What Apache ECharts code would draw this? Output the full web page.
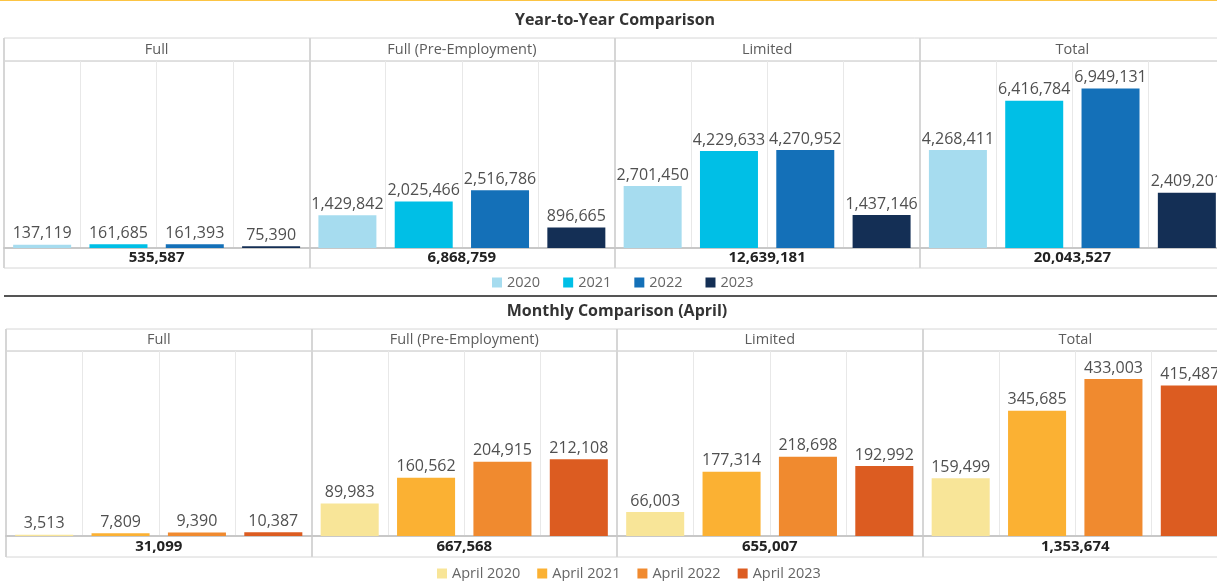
<!DOCTYPE html>
<html>
<head>
<meta charset="utf-8">
<title>Year-to-Year and Monthly Comparison</title>
<script src="https://cdn.jsdelivr.net/npm/echarts@6/dist/echarts.min.js"></script>
<style>
  html, body { margin: 0; padding: 0; background: #fff; }
  #chart { width: 1217px; height: 581px; }
</style>
</head>
<body>
<div id="chart"></div>
<script>
// panels shared by both charts
const panels = ['Full', 'Full (Pre-Employment)', 'Limited', 'Total']

// year-to-year, one array per year, ordered like panels
const years = ['2020', '2021', '2022', '2023']
const ytd2020 = [137119, 1429842, 2701450, 4268411]
const ytd2021 = [161685, 2025466, 4229633, 6416784]
const ytd2022 = [161393, 2516786, 4270952, 6949131]
const ytd2023 = [75390, 896665, 1437146, 2409201]
const ytdTotals = [535587, 6868759, 12639181, 20043527]

// monthly (april), same layout
const months = ['April 2020', 'April 2021', 'April 2022', 'April 2023']
const apr2020 = [3513, 89983, 66003, 159499]
const apr2021 = [7809, 160562, 177314, 345685]
const apr2022 = [9390, 204915, 218698, 433003]
const apr2023 = [10387, 212108, 192992, 415487]
const aprTotals = [31099, 667568, 655007, 1353674]

const blues = ['#a6dcef', '#00bfe6', '#1470b8', '#142f55']
const oranges = ['#f8e598', '#fbb133', '#f08a2f', '#dc5c21']

const FONT = "'Open Sans', sans-serif"
const fmt = v => String(v).replace(/\B(?=(\d{3})+(?!\d))/g, ',')

const charts = [
  {
    names: years, values: [ytd2020, ytd2021, ytd2022, ytd2023], totals: ytdTotals, colors: blues,
    left: 4, width: 1221, headTop: 38, headH: 23, plotTop: 61, plotH: 187, totTop: 248, totH: 20,
    yMax: 8150000, legendLeft: 492, legendTop: 275, legendGap: 23
  },
  {
    names: months, values: [apr2020, apr2021, apr2022, apr2023], totals: aprTotals, colors: oranges,
    left: 6, width: 1222, headTop: 329, headH: 22, plotTop: 351, plotH: 185, totTop: 536, totH: 21,
    yMax: 510500, legendLeft: 437, legendTop: 566, legendGap: 17
  }
]

const grid = []
const xAxis = []
const yAxis = []
const series = []
const legend = []

charts.forEach((c, ci) => {
  const g0 = ci * 3
  const x0 = ci * 4
  const box = { left: c.left, width: c.width, show: true, borderColor: '#d6d6d6', borderWidth: 1, outerBoundsMode: 'none', containLabel: false }
  // header row, plot area, totals row
  grid.push(Object.assign({}, box, { top: c.headTop, height: c.headH }))
  grid.push(Object.assign({}, box, { top: c.plotTop, height: c.plotH }))
  grid.push(Object.assign({}, box, { top: c.totTop, height: c.totH }))

  // 16 sub-columns: panel x year
  const cats = []
  panels.forEach(p => c.names.forEach(n => cats.push(p + ' ' + n)))

  xAxis.push({
    type: 'category', gridIndex: g0, data: panels, position: 'bottom',
    axisLine: { show: false }, axisTick: { show: false },
    axisLabel: { interval: 0, inside: true, margin: 11, verticalAlign: 'middle', color: '#5c5c5c', fontSize: 14.5, fontFamily: FONT },
    splitLine: { show: true, interval: 0, lineStyle: { color: '#d6d6d6', width: 2 } }
  })
  xAxis.push({
    type: 'category', gridIndex: g0 + 1, data: cats, position: 'bottom',
    axisLine: { show: true, lineStyle: { color: '#c8c8c8', width: 2 } },
    axisTick: { show: false }, axisLabel: { show: false },
    splitLine: { show: true, interval: 0, lineStyle: { color: '#e8e8e8', width: 1 } }
  })
  xAxis.push({
    type: 'category', gridIndex: g0 + 1, data: panels, position: 'top',
    axisLine: { show: false }, axisTick: { show: false }, axisLabel: { show: false },
    splitLine: { show: true, interval: 0, lineStyle: { color: '#d6d6d6', width: 2 } }
  })
  xAxis.push({
    type: 'category', gridIndex: g0 + 2, data: c.totals.map(fmt), position: 'bottom',
    axisLine: { show: false }, axisTick: { show: false },
    axisLabel: { interval: 0, inside: true, margin: 10, verticalAlign: 'middle', color: '#222', fontSize: 15, fontWeight: 'bold', fontFamily: FONT },
    splitLine: { show: true, interval: 0, lineStyle: { color: '#d6d6d6', width: 2 } }
  })

  yAxis.push({ type: 'value', gridIndex: g0, min: 0, max: 1, show: false })
  yAxis.push({ type: 'value', gridIndex: g0 + 1, min: 0, max: c.yMax, show: false })
  yAxis.push({ type: 'value', gridIndex: g0 + 2, min: 0, max: 1, show: false })

  c.names.forEach((name, k) => {
    const data = []
    panels.forEach((p, pi) => {
      c.names.forEach((n, j) => data.push(j === k ? c.values[k][pi] : '-'))
    })
    series.push({
      name: name,
      type: 'bar',
      xAxisIndex: x0 + 1,
      yAxisIndex: g0 + 1,
      data: data,
      barWidth: '76%',
      barGap: '-100%',
      itemStyle: { color: c.colors[k] },
      label: {
        show: true, position: 'top', distance: 3,
        color: '#505050', fontSize: 16, fontFamily: FONT,
        formatter: p => fmt(p.value)
      }
    })
  })

  legend.push({
    data: c.names, left: c.legendLeft, top: c.legendTop, padding: 0,
    icon: 'rect', itemWidth: 10, itemHeight: 10, itemGap: c.legendGap,
    textStyle: { color: '#666', fontSize: 14.5, fontFamily: FONT, lineHeight: 14 }
  })
})

const chart = echarts.init(document.getElementById('chart'))
chart.setOption({
  animation: false,
  textStyle: { fontFamily: FONT },
  grid: grid,
  xAxis: xAxis,
  yAxis: yAxis,
  legend: legend,
  series: series,
  graphic: [
    { type: 'line', shape: { x1: 0, y1: 0, x2: 1217, y2: 0 }, style: { stroke: '#fcc443', lineWidth: 2 } },
    { type: 'text', x: 615, y: 20, style: { text: 'Year-to-Year Comparison', align: 'center', verticalAlign: 'middle', font: 'bold 16px ' + FONT, fill: '#333' } },
    { type: 'line', shape: { x1: 4, y1: 296, x2: 1217, y2: 296 }, style: { stroke: '#555', lineWidth: 2 } },
    { type: 'text', x: 617, y: 311, style: { text: 'Monthly Comparison (April)', align: 'center', verticalAlign: 'middle', font: 'bold 16px ' + FONT, fill: '#333' } }
  ]
})
</script>
</body>
</html>
